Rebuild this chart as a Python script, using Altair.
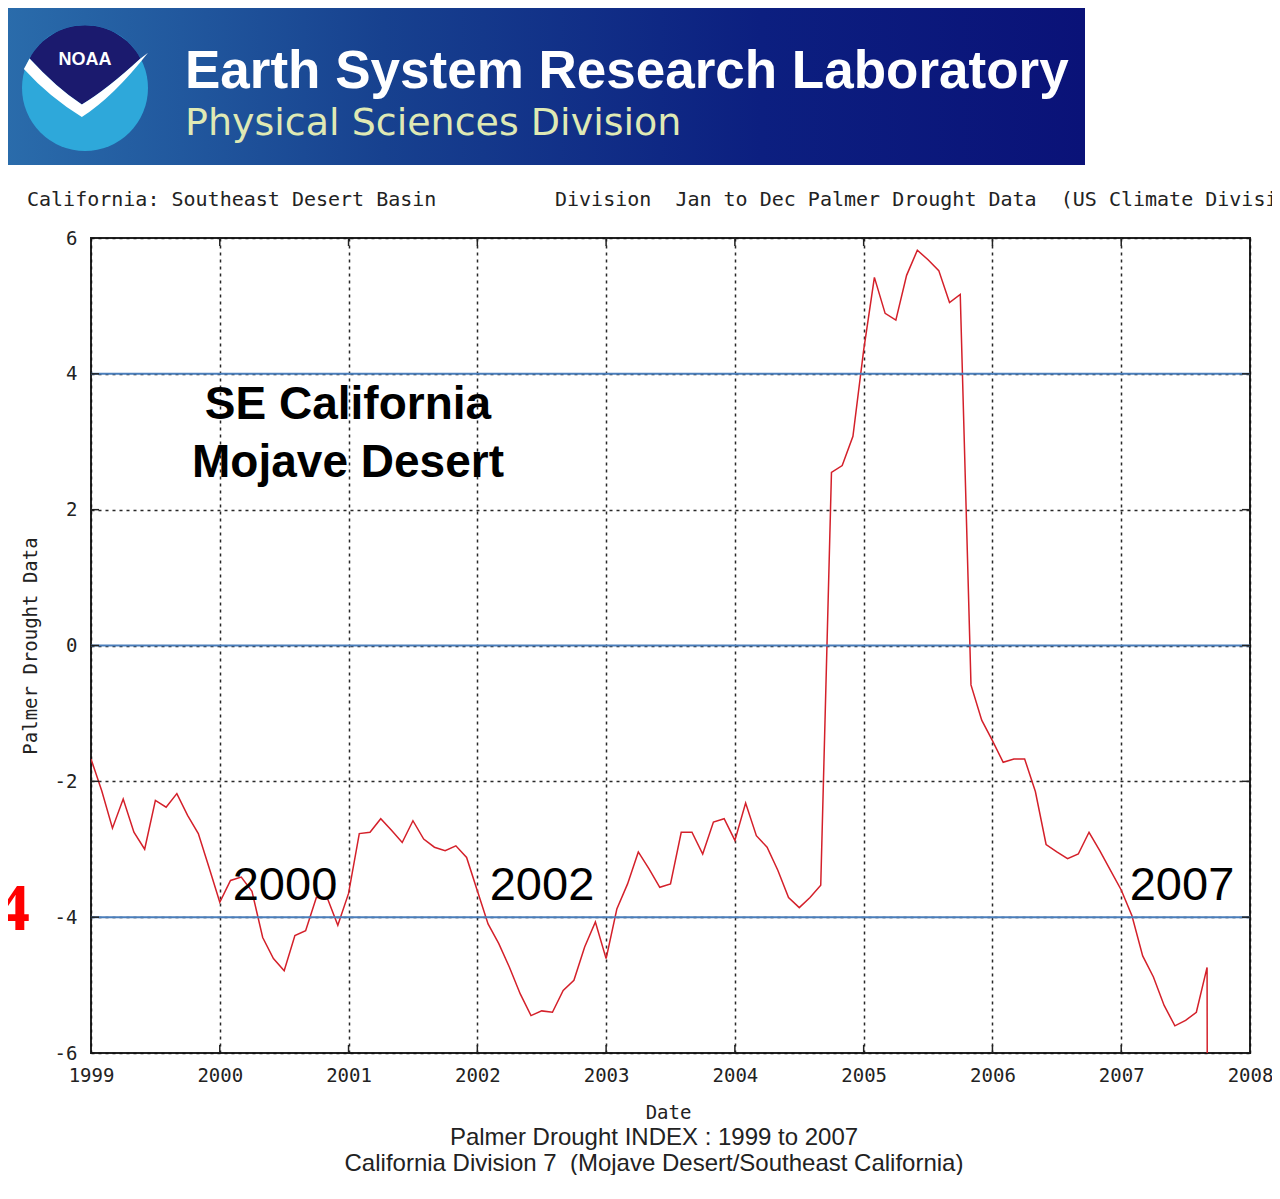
import altair as alt
import pandas as pd

# ---------------- data ----------------
START_YEAR = 1999
# monthly Palmer Drought Severity Index, Jan 1999 .. Sep 2007, then a missing-value code
pdsi = [
    -1.67, -2.14, -2.69, -2.26, -2.75, -3.00, -2.28, -2.38, -2.18, -2.50, -2.77, -3.27,   # 1999
    -3.78, -3.46, -3.41, -3.62, -4.30, -4.61, -4.79, -4.27, -4.20, -3.71, -3.71, -4.12,   # 2000
    -3.65, -2.77, -2.75, -2.55, -2.72, -2.90, -2.58, -2.85, -2.97, -3.02, -2.95, -3.12,   # 2001
    -3.61, -4.10, -4.39, -4.74, -5.13, -5.45, -5.38, -5.40, -5.08, -4.93, -4.44, -4.07,   # 2002
    -4.61, -3.88, -3.51, -3.04, -3.29, -3.56, -3.51, -2.75, -2.75, -3.07, -2.60, -2.55,   # 2003
    -2.87, -2.32, -2.80, -2.97, -3.31, -3.71, -3.86, -3.71, -3.53, 2.55, 2.65, 3.08,      # 2004
    4.35, 5.42, 4.89, 4.79, 5.45, 5.82, 5.68, 5.52, 5.05, 5.17, -0.58, -1.10,             # 2005
    -1.40, -1.72, -1.67, -1.67, -2.15, -2.93, -3.04, -3.14, -3.07, -2.75, -3.02, -3.31,   # 2006
    -3.60, -3.98, -4.57, -4.88, -5.30, -5.60, -5.52, -5.40, -4.74, -99.99,                # 2007
]
year_ticks = list(range(1999, 2009))
inner_year_ticks = list(range(2000, 2008))
y_ticks = [-6, -4, -2, 0, 2, 4, 6]
inner_y_ticks = [-4, -2, 0, 2, 4]
blue_levels = [-4, 0, 4]

df = pd.DataFrame({"t": [START_YEAR + i / 12 for i in range(len(pdsi))], "pdsi": pdsi})
one = pd.DataFrame({"a": [0]})

W, H = 1159, 815
MONO = "DejaVu Sans Mono"
SANS = "Liberation Sans"

xscale = alt.Scale(domain=[1999, 2008], nice=False, zero=False)
yscale = alt.Scale(domain=[-6, 6], nice=False, zero=False)

xaxis = alt.Axis(
    values=year_ticks, format="d", title="Date", labelPadding=13,
    titleX=577, titleY=59, titleBaseline="middle", titleAlign="center",
    labelFlush=False, grid=True, ticks=False, domain=False,
)
yaxis = alt.Axis(
    values=y_ticks, labelExpr="'' + datum.value", title="Palmer Drought Data",
    labelPadding=14, titleX=-61, titleY=H / 2, titleBaseline="middle",
    titleAlign="center", titleAngle=270, grid=True, ticks=False, domain=False,
)


def txt(text, x, y, size, font=SANS, weight="normal", color="black", align="center", baseline="middle"):
    return alt.Chart(one).mark_text(
        text=text, fontSize=size, font=font, fontWeight=weight, color=color,
        align=align, baseline=baseline,
    ).encode(x=alt.value(x), y=alt.value(y))


# ---------------- banner ----------------
banner = alt.Chart(one).mark_rect(
    color=alt.LinearGradient(
        gradient="linear",
        stops=[
            alt.GradientStop(color="#2a6cab", offset=0),
            alt.GradientStop(color="#17418f", offset=0.35),
            alt.GradientStop(color="#0c1f80", offset=0.7),
            alt.GradientStop(color="#0a1278", offset=1),
        ],
        x1=0, x2=1, y1=0, y2=0,
    )
).encode(x=alt.value(-86), x2=alt.value(994), y=alt.value(-233), y2=alt.value(-73))

LOGO_X, LOGO_Y, LOGO_SIZE = -6, -150, 126 * 126
logo_circle = alt.Chart(one).mark_point(
    shape="circle", filled=True, color="#2ea8da", opacity=1, size=LOGO_SIZE, strokeWidth=0
).encode(x=alt.value(LOGO_X), y=alt.value(LOGO_Y))
logo_navy = alt.Chart(one).mark_point(
    shape="M -0.88 -0.47 A 1 1 0 0 1 0.88 -0.47 Q 0.35 0.02 -0.05 0.26 Q -0.45 0.0 -0.88 -0.47 Z",
    filled=True, color="#1b1a6e", opacity=1, size=LOGO_SIZE, strokeWidth=0,
).encode(x=alt.value(LOGO_X), y=alt.value(LOGO_Y))
logo_white = alt.Chart(one).mark_point(
    shape="M -0.88 -0.47 Q -0.45 0.0 -0.05 0.26 Q 0.35 0.02 0.88 -0.47 L 1.0 -0.56 "
          "Q 0.45 0.14 -0.05 0.46 Q -0.55 0.16 -0.97 -0.30 Z",
    filled=True, color="#ffffff", opacity=1, size=LOGO_SIZE, strokeWidth=0,
).encode(x=alt.value(LOGO_X), y=alt.value(LOGO_Y))
logo_text = txt("NOAA", -6, -178, 18, weight="bold", color="white")

banner_t1 = txt("Earth System Research Laboratory", 94, -150, 53, weight="bold",
                color="white", align="left", baseline="alphabetic")
banner_t2 = txt("Physical Sciences Division", 94, -103, 38, font="DejaVu Sans",
                color="#dfe9b4", align="left", baseline="alphabetic")

# ---------------- header line ----------------
head1 = txt("California: Southeast Desert Basin", -64, -38, 20, font=MONO, color="#222",
            align="left")
head2 = txt("Division\u00a0\u00a0Jan to Dec Palmer Drought Data\u00a0\u00a0(US Climate Division)",
            464, -38, 20, font=MONO, color="#222", align="left")

# ---------------- plot ----------------
line = alt.Chart(df).mark_line(color="#d4202a", strokeWidth=1.5, clip=True).encode(
    x=alt.X("t:Q", scale=xscale, axis=xaxis),
    y=alt.Y("pdsi:Q", scale=yscale, axis=yaxis),
)

blue = alt.Chart(pd.DataFrame({"lvl": blue_levels})).mark_rule(
    color="#4a7ebb", strokeWidth=2
).encode(y=alt.Y("lvl:Q", scale=yscale, axis=yaxis))

xt = pd.DataFrame({"yr": inner_year_ticks})
tick_bottom = alt.Chart(xt).mark_rule(color="#222", strokeWidth=1.5).encode(
    x=alt.X("yr:Q", scale=xscale, axis=xaxis), y=alt.value(H), y2=alt.value(H - 8))
tick_top = alt.Chart(xt).mark_rule(color="#222", strokeWidth=1.5).encode(
    x=alt.X("yr:Q", scale=xscale, axis=xaxis), y=alt.value(0), y2=alt.value(8))
yt = pd.DataFrame({"lv": inner_y_ticks})
tick_left = alt.Chart(yt).mark_rule(color="#222", strokeWidth=1.5).encode(
    y=alt.Y("lv:Q", scale=yscale, axis=yaxis), x=alt.value(0), x2=alt.value(8))
tick_right = alt.Chart(yt).mark_rule(color="#222", strokeWidth=1.5).encode(
    y=alt.Y("lv:Q", scale=yscale, axis=yaxis), x=alt.value(W), x2=alt.value(W - 8))

ann1 = txt("SE California", 257, 167, 46, weight="bold")
ann2 = txt("Mojave Desert", 257, 225, 46, weight="bold")
ann3 = txt("2000", 194, 648, 47)
ann4 = txt("2002", 451, 648, 47)
ann5 = txt("2007", 1091, 648, 47)
red4 = txt("4", -61, 692, 68, font="Liberation Serif", weight="bold", color="#ff0000",
           align="right", baseline="alphabetic")

foot1 = txt("Palmer Drought INDEX : 1999 to 2007", 563, 900, 24, color="#222")
foot2 = txt("California Division 7\u00a0 (Mojave Desert/Southeast California)",
            563, 926, 24, color="#222")

chart = alt.layer(
    line, blue, tick_bottom, tick_top, tick_left, tick_right,
    banner, logo_circle, logo_navy, logo_white, logo_text, banner_t1, banner_t2,
    head1, head2,
    ann1, ann2, ann3, ann4, ann5, red4, foot1, foot2,
).properties(
    width=W, height=H,
    autosize=alt.AutoSizeParams(type="none"),
    padding={"left": 83, "top": 230, "right": 22, "bottom": 122},
    background="white",
).configure_view(
    stroke="#222", strokeWidth=2
).configure_axis(
    gridColor="#111", gridDash=[3, 4], gridWidth=1.5, gridOpacity=0.9,
    labelFont=MONO, labelFontSize=19, labelColor="#222",
    titleFont=MONO, titleFontSize=19, titleColor="#222", titleFontWeight="normal",
)

chart.save("out.html", embed_options={"renderer": "svg", "actions": False})
